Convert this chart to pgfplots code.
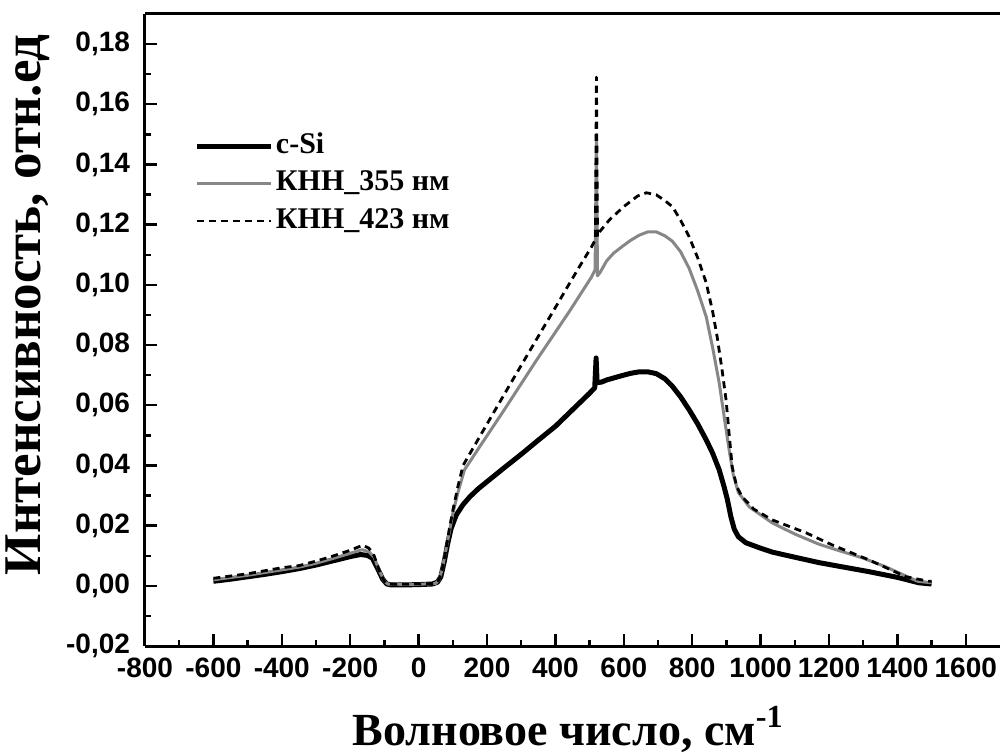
\documentclass[border=0pt]{standalone}
\usepackage{fontspec}
\setmainfont{Liberation Serif}
\setsansfont{Liberation Sans}
\usepackage{pgfplots}
\pgfplotsset{compat=1.18}
\definecolor{midgray}{RGB}{135,135,135}

\begin{document}
\begin{tikzpicture}
\begin{axis}[
  scale only axis,
  width=427.5pt, height=316pt,
  xmin=-800, xmax=1700, ymin=-0.02, ymax=0.19,
  axis x line*=box, axis y line*=left,
  axis line style={-, line width=1.5pt},
  xtick={-800,-600,...,1600},
  ytick={-0.02,0,0.02,0.04,0.06,0.08,0.10,0.12,0.14,0.16,0.18},
  minor x tick num=1, minor y tick num=1,
  xtick pos=bottom, ytick pos=left,
  tick align=inside,
  major tick length=6pt, minor tick length=3pt,
  every tick/.style={black, line width=1.2pt},
  tick label style={font=\sffamily\bfseries\fontsize{14}{14}\selectfont},
  /pgf/number format/assume math mode=true,
  /pgf/number format/1000 sep={},
  yticklabel style={/pgf/number format/.cd, fixed, fixed zerofill, precision=2, use comma, /tikz/xshift=-4pt},
  xticklabel style={yshift=-2.5pt},
  every axis y label/.style={at={(axis description cs:-0.137,0.54)}, rotate=90, anchor=center},
  every axis x label/.style={at={(axis description cs:0.495,-0.157)}, anchor=base},
  ylabel={\bfseries\fontsize{26.5}{26.5}\selectfont Интенсивность, отн.ед},
  xlabel={\bfseries\fontsize{23}{23}\selectfont Волновое число, см\textsuperscript{-1}},
  legend style={draw=none, fill=none, at={(axis description cs:0.058,0.817)}, anchor=north west,
    font=\bfseries\fontsize{15}{15}\selectfont, row sep=2.75pt, inner sep=0pt,
    nodes={inner sep=1pt, text height=10.5pt, text depth=3.5pt}},
  legend cell align=left,
  legend image code/.code={\draw[#1] (0pt,0pt) -- (34pt,0pt); \path (0pt,0pt) -- (37pt,0pt);},
  every axis plot/.append style={line join=round},
]
\coordinate (bl) at (rel axis cs:0,0);
\coordinate (tr) at (rel axis cs:1,1);

% c-Si
\addplot[black, line width=2.5pt] coordinates {
(-600,0.0015) (-550,0.0022) (-500,0.003) (-450,0.0038) (-400,0.0047) (-350,0.0057)
(-300,0.0069) (-250,0.0083) (-200,0.0097) (-170,0.0104) (-150,0.0101) (-135,0.0092)
(-120,0.0058) (-105,0.0022) (-93,0.0006) (-80,0.0003) (-40,0.0003) (0,0.0004)
(40,0.0006) (55,0.0012) (65,0.003) (75,0.008) (85,0.014) (95,0.019) (110,0.0235)
(130,0.027) (150,0.0296) (175,0.0323) (200,0.0346) (250,0.0392) (300,0.0437)
(350,0.0484) (400,0.053) (450,0.0585) (500,0.064) (515,0.0658) (519,0.0757)
(522,0.0675) (535,0.0677) (550,0.0684) (590,0.0697) (620,0.0706) (645,0.0711)
(670,0.0711) (695,0.0705) (720,0.0688) (742,0.0663) (766,0.0628) (791,0.0585)
(816,0.0538) (841,0.0485) (860,0.0440) (879,0.0385) (893,0.033) (903,0.0286)
(913,0.023) (923,0.0188) (935,0.0163) (957,0.0143) (1000,0.0125) (1034,0.0112)
(1100,0.0095) (1171,0.0077) (1229,0.0065) (1317,0.0047) (1400,0.0028)
(1463,0.001) (1500,0.0006)
};
\addlegendentry{c-Si}

% KNN 355 nm
\addplot[midgray, line width=1.5pt] coordinates {
(-600,0.002) (-500,0.0035) (-400,0.0053) (-350,0.0062) (-300,0.0075) (-250,0.0091)
(-200,0.0108) (-165,0.012) (-145,0.0113) (-130,0.0095) (-115,0.005) (-100,0.0015)
(-90,0.0006) (-50,0.0005) (0,0.0005) (50,0.0008) (60,0.002) (70,0.006) (80,0.012)
(90,0.018) (100,0.024) (115,0.031) (134,0.0385) (178,0.0461) (246,0.0577)
(345,0.075) (441,0.0912) (505,0.1025) (516,0.105) (520,0.150) (523,0.103)
(530,0.104) (550,0.108) (570,0.1105) (596,0.1128) (620,0.1148) (645,0.1165)
(670,0.1176) (695,0.1176) (720,0.1163) (742,0.1145) (766,0.111) (791,0.1055)
(816,0.098) (841,0.0894) (860,0.079) (879,0.0674) (895,0.055) (908,0.0452)
(920,0.037) (935,0.031) (967,0.0262) (1034,0.0209) (1100,0.0172) (1171,0.0138)
(1229,0.0117) (1300,0.0092) (1366,0.0063) (1420,0.0035) (1460,0.0015) (1500,0.001)
};
\addlegendentry{КНН\_355 нм}

% KNN 423 nm
\addplot[black, line width=1.4pt, dash pattern=on 3.5pt off 2.5pt] coordinates {
(-600,0.0025) (-500,0.004) (-400,0.006) (-350,0.0067) (-300,0.0082) (-250,0.0099)
(-200,0.0118) (-163,0.0135) (-145,0.0125) (-130,0.010) (-115,0.005) (-100,0.0015)
(-90,0.0006) (-50,0.0005) (0,0.0006) (50,0.0008) (60,0.002) (70,0.006) (80,0.012)
(90,0.019) (100,0.025) (115,0.033) (130,0.040) (187,0.0512) (213,0.0563)
(275,0.0684) (362,0.0852) (397,0.0919) (432,0.0987) (470,0.106) (505,0.1125)
(517,0.115) (520,0.169) (523,0.116) (529,0.1176) (558,0.1216) (600,0.126)
(640,0.1295) (666,0.1306) (695,0.1299) (720,0.128) (742,0.126) (766,0.1215)
(791,0.116) (816,0.109) (841,0.1007) (860,0.091) (873,0.0827) (887,0.072)
(899,0.0618) (910,0.048) (917,0.0395) (930,0.033) (946,0.0296) (980,0.0255)
(1034,0.0219) (1133,0.0176) (1209,0.0136) (1317,0.0086) (1425,0.003)
(1492,0.0015) (1500,0.0015)
};
\addlegendentry{КНН\_423 нм}
\end{axis}
\pgfresetboundingbox
\path[use as bounding box] ([xshift=-72.5pt,yshift=-54pt]bl) rectangle ([yshift=7pt]tr);
\end{tikzpicture}
\end{document}
